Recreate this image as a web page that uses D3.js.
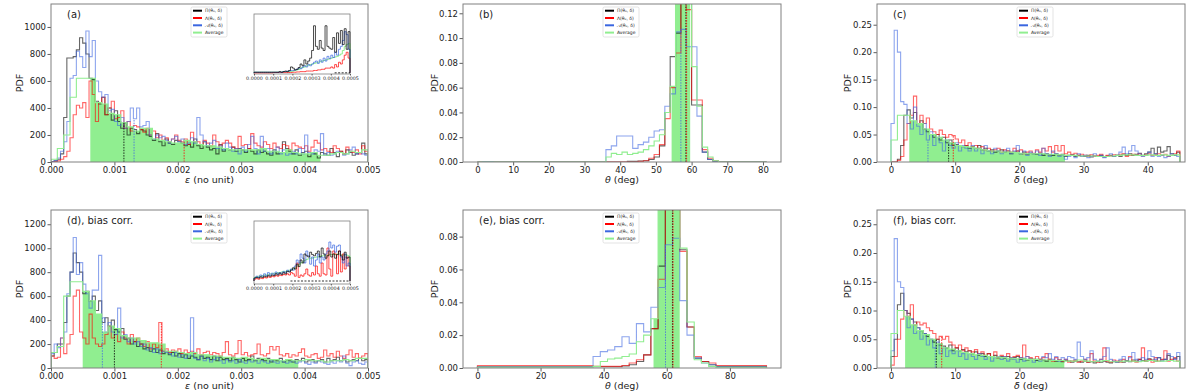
<!DOCTYPE html>
<meta charset="utf-8">
<style>
body { margin: 0; background: #fff; }
text { font-family: "DejaVu Sans", sans-serif; fill: #222; }
</style>
<svg width="1200" height="391"></svg>
<script src="https://d3js.org/d3.v7.min.js"></script>
<script>

// ---------- data ----------
// (a) epsilon, 100 bins of 0.00005 (average: 50 bins of 0.0001)
var aBlack = [3,8,20,60,330,770,770,780,830,920, 880,800,620,610,450,430,480,350,400,310,
  380,300,250,290,200,250,240,210,240,230, 200,190,160,210,150,120,170,140,130,160,
  150,140,120,130,110,170,120,100,150,110, 90,100,60,130,80,100,90,110,80,100,
  90,70,100,80,60,90,70,80,60,50, 90,60,70,150,100,80,60,90,50,70,
  80,40,70,60,30,70,60,50,100,70, 40,80,60,90,70,50,60,70,140,60];
var aRed = [0,3,8,20,40,80,180,350,420,400, 440,330,600,500,300,440,480,350,400,450,
  320,330,380,250,300,230,270,260,240,220, 250,200,230,180,200,160,180,150,170,200,
  160,150,170,130,220,150,150,130,160,140, 120,200,150,120,140,160,140,110,100,190,
  120,130,100,210,140,120,110,150,130,100, 140,110,100,130,120,90,140,120,110,100,
  120,80,110,160,140,90,100,80,70,120, 100,80,60,110,80,70,90,60,120,80];
var aBlue = [2,10,30,80,150,300,620,640,820,780, 700,970,780,900,600,520,480,500,380,390,
  300,270,330,250,300,400,320,400,260,270, 300,200,170,200,180,190,160,140,170,190,
  150,170,130,140,180,140,330,200,150,120, 140,160,100,120,90,140,110,80,100,60,
  110,80,130,190,100,60,190,80,100,60, 80,110,60,90,50,60,80,60,100,60,
  200,70,60,90,80,210,50,70,50,60, 80,70,50,60,90,110,60,70,60,50];
var aGreen = [20,100,200,480,620,620,620,440,430,360, 350,290,260,230,250,250,170,160,150,140,
  140,160,150,130,120,120,110,100,90,90, 90,90,90,100,80,80,70,90,70,60,
  60,70,50,50,60,70,60,80,70,90];

// (a) inset, 50 bins of 0.00001, arbitrary units
var insABlack = [1,1,1,1,1,1,1,1,1,1, 1,1,1,2,1,2,3,2,4,10, 8,5,6,9,15,12,22,15,20,25,
  38,80,45,40,55,42,38,80,45,42, 40,60,35,68,50,72,48,75,40,70];
var insARed = [0,0,0,0,0,0,0,0,0,0, 0.5,0.5,0.5,0.5,0.5,0.5,0.5,0.5,0.5,0.5, 1,1,1.5,1.5,2,2,2,3,3,3,
  3,4,4,5,5,6,6,8,8,8, 10,8,14,10,18,15,22,30,35,25];
var insABlue = [1,1,1,1,1,1,1,1,1,1, 1,1,1,1,1,2,2,3,3,4, 4,5,6,8,7,10,12,10,14,12,
  15,18,20,16,22,18,25,20,28,24, 30,26,35,30,40,45,55,70,65,40];
var insAGreen = [1,1,1,1,1,1,1,1,1,1, 1,1,1,1,1,2,2,2,2,2, 3,4,5,6,8,9,10,12,13,14,
  15,16,17,18,19,20,21,22,23,24, 25,26,27,28,30,32,38,45,48,50];

// (b) theta, 54 bins of 1.5 deg
var bBlack = [0,0,0,0,0,0,0,0,0,0, 0,0,0,0,0,0,0,0,0,0, 0,0,0,0,0,0,0,0,0.0005,0.0005,
  0.0008,0.001,0.002,0.004,0.013,0.04,0.085,0.104,0.16,0.14, 0.046,0.046,0.008,0.002,0.0005,0,0,0,0,0, 0,0,0,0];
var bRed = [0,0,0,0,0,0,0,0,0,0, 0,0,0,0,0,0,0,0,0,0, 0,0,0,0,0,0,0,0,0,0,
  0.0005,0.001,0.003,0.006,0.014,0.035,0.06,0.088,0.16,0.123, 0.05,0.05,0.01,0.003,0.001,0,0,0,0,0, 0,0,0,0];
var bBlue = [0,0.0003,0.0003,0,0,0,0,0,0,0, 0,0,0,0,0,0,0,0,0,0, 0,0,0,0,0.01,0.013,0.021,0.021,0.021,0.011,
  0.014,0.016,0.02,0.025,0.026,0.045,0.055,0.105,0.107,0.093, 0.093,0.037,0.008,0.002,0.0005,0,0,0,0,0, 0,0,0,0];
var bGreen = [0,0,0,0,0,0,0,0,0,0, 0,0,0,0,0,0,0,0,0,0, 0,0,0,0,0.004,0.007,0.006,0.008,0.006,0.007,
  0.008,0.01,0.013,0.017,0.022,0.04,0.061,0.15,0.16,0.14, 0.077,0.045,0.012,0.004,0.001,0,0,0,0,0, 0,0,0,0];

// (c) delta, 90 bins of 0.5 deg (average: 45 bins of 1 deg)
var cBlack = [0,0,0.005,0.03,0.085,0.095,0.08,0.09,0.07,0.075, 0.06,0.055,0.05,0.045,0.05,0.04,0.045,0.035,0.04,0.03,
  0.032,0.03,0.028,0.03,0.025,0.028,0.025,0.03,0.022,0.025, 0.02,0.022,0.018,0.02,0.022,0.018,0.02,0.015,0.018,0.02,
  0.015,0.018,0.014,0.016,0.015,0.014,0.016,0.012,0.015,0.013, 0.012,0.015,0.012,0.014,0.01,0.012,0.013,0.01,0.012,0.011,
  0.01,0.012,0.009,0.011,0.01,0.012,0.009,0.011,0.012,0.01, 0.012,0.01,0.014,0.012,0.015,0.012,0.014,0.016,0.012,0.015,
  0.018,0.025,0.015,0.027,0.018,0.02,0.028,0.015,0.012,0.018];
var cRed = [0,0,0.003,0.01,0.04,0.07,0.085,0.12,0.07,0.085, 0.07,0.08,0.06,0.055,0.05,0.058,0.05,0.045,0.05,0.048,
  0.042,0.035,0.04,0.03,0.035,0.028,0.03,0.025,0.028,0.022, 0.025,0.02,0.022,0.025,0.018,0.022,0.02,0.018,0.025,0.02,
  0.022,0.015,0.018,0.02,0.016,0.022,0.018,0.025,0.02,0.028, 0.018,0.03,0.02,0.03,0.015,0.018,0.014,0.016,0.012,0.014,
  0.012,0.01,0.013,0.011,0.012,0.014,0.01,0.012,0.011,0.013, 0.012,0.014,0.015,0.01,0.012,0.014,0.012,0.015,0.011,0.013,
  0.015,0.012,0.013,0.015,0.012,0.014,0.01,0.012,0.015,0.02];
var cBlue = [0.07,0.24,0.2,0.11,0.105,0.07,0.06,0.1,0.065,0.05, 0.07,0.04,0.055,0.03,0.045,0.035,0.02,0.04,0.03,0.025,
  0.035,0.02,0.03,0.025,0.02,0.03,0.02,0.025,0.015,0.03, 0.02,0.015,0.025,0.02,0.015,0.02,0.025,0.015,0.02,0.03,
  0.015,0.02,0.012,0.018,0.015,0.02,0.012,0.025,0.015,0.01, 0.02,0.015,0.01,0.012,0.005,0.01,0.012,0.008,0.015,0.01,
  0.012,0.008,0.01,0.015,0.01,0.012,0.008,0.01,0.015,0.01, 0.012,0.018,0.027,0.015,0.02,0.03,0.02,0.015,0.01,0.012,
  0.018,0.01,0.015,0.01,0.012,0.008,0.01,0.015,0.012,0.01];
var cGreen = [0.04,0.085,0.085,0.075,0.07,0.06,0.05,0.045,0.04,0.035, 0.03,0.028,0.027,0.025,0.022,0.02,0.02,0.018,0.018,0.017,
  0.016,0.015,0.015,0.015,0.014,0.014,0.013,0.012,0.012,0.011, 0.011,0.011,0.01,0.01,0.011,0.012,0.013,0.013,0.012,0.012,
  0.013,0.012,0.013,0.012,0.013];

// (d) epsilon, bias corrected
var dBlack = [100,130,200,200,380,600,800,960,880,800, 620,640,560,600,480,560,380,420,350,400,
  320,300,330,240,250,200,220,180,200,160, 170,140,160,130,150,120,140,110,130,100,
  120,90,110,80,100,90,70,100,80,90, 70,100,60,90,70,80,60,90,70,50,
  80,60,70,100,60,80,70,60,80,50, 70,60,80,50,70,60,50,70,60,80,
  50,60,70,50,60,70,50,80,60,70, 90,60,70,50,60,70,60,80,60,70];
var dRed = [100,80,90,250,120,200,280,600,650,300, 250,200,450,250,200,180,200,280,350,250,
  280,220,300,250,200,280,220,250,200,180, 220,160,200,170,380,140,160,130,150,140,
  160,120,150,130,140,120,160,110,130,140, 110,130,120,100,130,220,110,100,120,230,
  110,130,100,110,120,200,110,100,120,180, 150,180,110,100,120,90,110,100,130,160,
  100,90,110,120,80,90,150,100,120,90, 140,100,80,110,150,90,120,80,100,120];
var dBlue = [120,200,170,250,300,620,800,1090,780,880, 700,620,500,650,650,940,420,300,380,300,
  280,500,250,280,220,250,200,220,180,200, 150,170,130,160,120,140,130,120,100,130,
  90,110,80,100,420,80,70,100,60,80, 50,70,90,60,40,70,50,60,40,70,
  50,40,60,50,70,40,60,50,40,60, 50,40,60,50,40,50,60,40,50,60,
  40,30,50,40,60,50,40,30,50,40, 60,50,100,40,20,50,60,40,30,50];
var dGreen = [130,180,600,720,720,640,560,450,300,350, 330,270,250,250,230,210,210,200,140,140,
  130,120,130,110,110,100,100,90,90,80, 90,80,70,80,70,70,60,70,60,60,
  70,60,60,50,60,60,70,60,80,80];

// (d) inset
var insDBlack = [5,6,5,7,6,8,7,9,8,10, 9,12,10,13,11,14,12,16,15,18, 22,20,28,24,35,30,45,42,40,48,
  44,42,46,50,40,55,45,38,42,50, 40,45,38,44,50,42,35,48,38,40];
var insDRed = [3,4,3,5,4,6,5,7,6,8, 7,9,8,10,9,11,10,12,10,14, 12,8,30,6,10,8,12,20,10,8,
  14,10,25,12,8,30,12,10,55,20, 8,50,45,12,50,15,45,20,40,25];
var insDBlue = [5,8,6,10,8,12,9,14,10,13, 11,15,12,14,13,16,14,18,16,20, 18,25,35,30,45,38,30,50,42,28,
  40,25,35,45,30,40,35,45,50,65, 55,60,48,58,60,40,30,45,25,30];
var insDGreen = [6,7,8,8,9,10,10,11,12,12, 13,13,14,14,15,16,16,17,18,19, 20,22,25,27,30,32,34,36,37,38,
  38,39,40,40,41,42,42,43,43,44, 44,45,44,45,45,44,43,44,43,42];

// (e) theta, bias corrected, 40 bins of 2.29 deg
var eBlack = [0.0008,0.0008,0.0008,0.0008,0.0008,0.0008,0.0008,0.0008,0.0008,0.0008, 0.0008,0.0008,0.0008,0.0008,0.0008,0.0008,0.0008,0.0008,0.0008,0.0008,
  0.0012,0.002,0.004,0.008,0.024,0.062,0.11,0.12,0.072,0.025, 0.006,0.004,0.002,0.001,0.001,0.001,0.001,0.001,0.001,0.001];
var eRed = [0.0015,0.0015,0.0015,0.0015,0.0015,0.0015,0.0015,0.0015,0.0015,0.0015, 0.0015,0.0015,0.0015,0.0015,0.0015,0.0015,0.001,0.001,0.001,0.001,
  0.0015,0.003,0.005,0.008,0.024,0.054,0.12,0.12,0.071,0.025, 0.007,0.004,0.003,0.0015,0.0015,0.0015,0.0015,0.0015,0.0015,0.0015];
var eBlue = [0.0006,0.0006,0.0006,0.0006,0.0006,0.0006,0.0006,0.0006,0.0006,0.0006, 0.0006,0.0006,0.0006,0.0006,0.0006,0.0006,0.007,0.01,0.011,0.013,
  0.019,0.015,0.027,0.022,0.037,0.049,0.075,0.079,0.041,0.02, 0.006,0.003,0.002,0.0008,0.0008,0.0008,0.0008,0.0008,0.0008,0.0008];
var eGreen = [0.0005,0.0005,0.0005,0.0005,0.0005,0.0005,0.0005,0.0005,0.0005,0.0005, 0.0005,0.0005,0.0005,0.0005,0.0005,0.0005,0.001,0.004,0.0055,0.006,
  0.007,0.0085,0.016,0.02,0.03,0.1,0.12,0.12,0.073,0.028, 0.005,0.003,0.001,0.0005,0.0005,0.0005,0.0005,0.0005,0.0005,0.0005];

// (f) delta, bias corrected
var fBlack = [0.02,0.05,0.11,0.13,0.1,0.095,0.085,0.08,0.07,0.065, 0.06,0.055,0.05,0.045,0.05,0.04,0.038,0.035,0.04,0.03,
  0.035,0.03,0.032,0.028,0.03,0.025,0.028,0.022,0.025,0.02, 0.025,0.02,0.022,0.018,0.02,0.017,0.02,0.016,0.018,0.02,
  0.015,0.017,0.014,0.016,0.015,0.013,0.015,0.014,0.012,0.015, 0.013,0.012,0.014,0.011,0.013,0.012,0.01,0.012,0.011,0.01,
  0.012,0.01,0.011,0.009,0.011,0.01,0.012,0.01,0.009,0.011, 0.01,0.012,0.01,0.013,0.011,0.014,0.012,0.015,0.013,0.012,
  0.016,0.014,0.012,0.018,0.014,0.015,0.022,0.013,0.016,0.02];
var fRed = [0.005,0.02,0.05,0.085,0.1,0.09,0.11,0.075,0.08,0.075, 0.078,0.07,0.065,0.06,0.05,0.055,0.05,0.055,0.045,0.04,
  0.035,0.04,0.03,0.035,0.03,0.028,0.032,0.025,0.028,0.022, 0.025,0.02,0.028,0.018,0.022,0.02,0.025,0.018,0.02,0.022,
  0.018,0.04,0.02,0.018,0.015,0.02,0.015,0.018,0.025,0.015, 0.012,0.018,0.014,0.012,0.015,0.01,0.012,0.014,0.01,0.012,
  0.015,0.01,0.025,0.012,0.01,0.015,0.035,0.012,0.01,0.014, 0.012,0.01,0.015,0.012,0.02,0.012,0.01,0.015,0.035,0.012,
  0.015,0.01,0.018,0.012,0.015,0.03,0.012,0.015,0.018,0.012];
var fBlue = [0.03,0.225,0.15,0.14,0.1,0.07,0.085,0.06,0.07,0.05, 0.06,0.04,0.05,0.035,0.045,0.025,0.035,0.02,0.03,0.025,
  0.03,0.02,0.025,0.015,0.025,0.02,0.015,0.025,0.02,0.015, 0.02,0.012,0.018,0.02,0.015,0.02,0.012,0.018,0.015,0.01,
  0.018,0.012,0.02,0.015,0.01,0.015,0.012,0.02,0.018,0.025, 0.015,0.02,0.012,0.018,0.015,0.02,0.018,0.015,0.045,0.02,
  0.015,0.018,0.03,0.015,0.012,0.015,0.02,0.035,0.015,0.012, 0.01,0.015,0.02,0.012,0.018,0.027,0.015,0.012,0.018,0.015,
  0.03,0.02,0.015,0.018,0.012,0.015,0.025,0.02,0.015,0.027];
var fGreen = [0.06,0.1,0.09,0.075,0.065,0.058,0.05,0.042,0.035,0.033, 0.03,0.027,0.025,0.023,0.022,0.02,0.019,0.018,0.017,0.016,
  0.016,0.015,0.015,0.014,0.014,0.013,0.013,0.012,0.012,0.014, 0.012,0.011,0.012,0.013,0.011,0.011,0.012,0.012,0.011,0.012,
  0.013,0.012,0.012,0.013,0.012];

// ticks and labels
var epsTicks = [0, 0.001, 0.002, 0.003, 0.004, 0.005];
var insetTicks = [0, 0.0001, 0.0002, 0.0003, 0.0004, 0.0005];
var legendLabels = ["\u03a0(\u03b8\u2080, \u03b4)", "\u039b(\u03b8\u2080, \u03b4)", "\ud835\udc9c(\u03b8\u2080, \u03b4)", "Average"];

// ---------- layout ----------
var svg = d3.select("svg");
var colLeft = [51, 463, 877], colRight = [368, 781, 1185];
var rowTop = [4, 210], rowBottom = [162, 368];
var ylabOffset = [31, 28, 29];

var colors = {black: "#000000", red: "#ff0000", blue: "#4169e1", green: "#90ee90"};
var lineAlpha = {black: 0.6, red: 0.6, blue: 0.6, green: 1};

var fmt3 = d3.format(".3f"), fmt2 = d3.format(".2f"), fmtInt = d3.format("d");

var panels = [
  {id: "a", label: "(a)", col: 0, row: 0, xDom: [0, 0.005], yDom: [0, 1170],
   xTicks: epsTicks, yTicks: d3.range(0, 1001, 200), xFmt: fmt3, yFmt: fmtInt,
   sym: "\u03b5", unit: " (no unit)",
   black: aBlack, red: aRed, blue: aBlue, green: aGreen, x0: 0, w: 0.00005, gw: 0.0001,
   fill: [0.00062, 0.00425], med: {black: 0.00115, blue: 0.00131, red: 0.0021},
   inset: {black: insABlack, red: insARed, blue: insABlue, green: insAGreen, top: 10, h: 60, yDom: [-2, 100], dash: [0.00042, 0.0005]}},
  {id: "b", label: "(b)", col: 1, row: 0, xDom: [-4.05, 85.05], yDom: [0, 0.1275],
   xTicks: d3.range(0, 81, 10), yTicks: [0, 0.02, 0.04, 0.06, 0.08, 0.10, 0.12], xFmt: fmtInt, yFmt: fmt2,
   sym: "\u03b8", unit: " (deg)",
   black: bBlack, red: bRed, blue: bBlue, green: bGreen, x0: 0, w: 1.5, gw: 1.5,
   fill: [54.4, 59.6], med: {blue: 57.0, black: 58.4, red: 58.6}},
  {id: "c", label: "(c)", col: 2, row: 0, xDom: [-2.18, 45.8], yDom: [0, 0.2877],
   xTicks: [0, 10, 20, 30, 40], yTicks: [0, 0.05, 0.10, 0.15, 0.20, 0.25], xFmt: fmtInt, yFmt: fmt2,
   sym: "\u03b4", unit: " (deg)",
   black: cBlack, red: cRed, blue: cBlue, green: cGreen, x0: 0, w: 0.5, gw: 1,
   fill: [2.85, 27.1], med: {blue: 5.76, black: 8.98, red: 9.7}},
  {id: "d", label: "(d), bias corr.", col: 0, row: 1, xDom: [0, 0.005], yDom: [0, 1319],
   xTicks: epsTicks, yTicks: d3.range(0, 1201, 200), xFmt: fmt3, yFmt: fmtInt,
   sym: "\u03b5", unit: " (no unit)",
   black: dBlack, red: dRed, blue: dBlue, green: dGreen, x0: 0, w: 0.00005, gw: 0.0001,
   fill: [0.0005, 0.0039], med: {blue: 0.00081, black: 0.001, red: 0.00174},
   inset: {black: insDBlack, red: insDRed, blue: insDBlue, green: insDGreen, top: 11, h: 63, yDom: [-5, 100], dash: [0.00019, 0.0005]}},
  {id: "e", label: "(e), bias corr.", col: 1, row: 1, xDom: [-4.58, 96.2], yDom: [0, 0.0962],
   xTicks: [0, 20, 40, 60, 80], yTicks: [0, 0.02, 0.04, 0.06, 0.08], xFmt: fmtInt, yFmt: fmt2,
   sym: "\u03b8", unit: " (deg)",
   black: eBlack, red: eRed, blue: eBlue, green: eGreen, x0: 0, w: 2.29, gw: 2.29,
   fill: [55.8, 64.1], med: {blue: 59.6, black: 61.8, red: 62.0}},
  {id: "f", label: "(f), bias corr.", col: 2, row: 1, xDom: [-2.18, 45.8], yDom: [0, 0.2748],
   xTicks: [0, 10, 20, 30, 40], yTicks: [0, 0.05, 0.10, 0.15, 0.20, 0.25], xFmt: fmtInt, yFmt: fmt2,
   sym: "\u03b4", unit: " (deg)",
   black: fBlack, red: fRed, blue: fBlue, green: fGreen, x0: 0, w: 0.5, gw: 1,
   fill: [2.2, 27.0], med: {blue: 6.9, black: 7.06, red: 7.9}}
];

function stepPoints(vals, x0, w) {
  var pts = [[x0, 0]];
  vals.forEach(function(v, i) { pts.push([x0 + i * w, v]); });
  pts.push([x0 + vals.length * w, vals[vals.length - 1]]);
  pts.push([x0 + vals.length * w, 0]);
  return pts;
}

function fillPoints(vals, x0, w, lo, hi) {
  var i0 = Math.floor((lo - x0) / w), ih = Math.floor((hi - x0) / w);
  var pts = [[lo, vals[i0]]];
  for (var i = i0 + 1; i <= ih; i++) pts.push([x0 + i * w, vals[i]]);
  pts.push([hi, vals[ih]]);
  return pts;
}

function valueAt(vals, x0, w, v) {
  return vals[Math.min(vals.length - 1, Math.floor((v - x0) / w))];
}

var defs = svg.append("defs");

function styleAxis(sel, size) {
  sel.attr("font-family", "DejaVu Sans").attr("font-size", size);
  sel.select(".domain").remove();
  sel.selectAll(".tick line").attr("stroke", "#333").attr("stroke-width", 0.8);
  sel.selectAll(".tick text").attr("fill", "#222");
}

function drawLegend(g, lx, ly) {
  var lg = g.append("g").attr("transform", "translate(" + lx + "," + ly + ")");
  lg.append("rect").attr("width", 36).attr("height", 30).attr("rx", 1.5)
    .attr("fill", "#fff").attr("fill-opacity", 0.8).attr("stroke", "#d0d0d0").attr("stroke-width", 0.6);
  ["black", "red", "blue", "green"].forEach(function(k, i) {
    var yy = 3.7 + i * 7.3;
    lg.append("line").attr("x1", 2).attr("x2", 11).attr("y1", yy).attr("y2", yy)
      .attr("stroke", k === "blue" ? "#3a66e0" : colors[k]).attr("stroke-width", 2);
    lg.append("text").attr("x", 14).attr("y", yy + 1.6).attr("font-size", 4.5).text(legendLabels[i]);
  });
}

panels.forEach(function(p) {
  var left = colLeft[p.col], right = colRight[p.col], top = rowTop[p.row], bottom = rowBottom[p.row];
  var x = d3.scaleLinear().domain(p.xDom).range([left, right]);
  var y = d3.scaleLinear().domain(p.yDom).range([bottom, top]);

  defs.append("clipPath").attr("id", "clip-" + p.id)
    .append("rect").attr("x", left).attr("y", top).attr("width", right - left).attr("height", bottom - top);

  var g = svg.append("g");
  var plot = g.append("g").attr("clip-path", "url(#clip-" + p.id + ")");

  var line = d3.line().curve(d3.curveStepAfter).x(function(d) { return x(d[0]); }).y(function(d) { return y(d[1]); });
  var area = d3.area().curve(d3.curveStepAfter).x(function(d) { return x(d[0]); })
    .y0(y(0)).y1(function(d) { return y(d[1]); });

  // central interval of the average
  plot.append("path").attr("d", area(fillPoints(p.green, p.x0, p.gw, p.fill[0], p.fill[1])))
    .attr("fill", colors.green);

  ["black", "red", "blue"].forEach(function(k) {
    plot.append("path").attr("d", line(stepPoints(p[k], p.x0, p.w)))
      .attr("fill", "none").attr("stroke", colors[k]).attr("stroke-opacity", lineAlpha[k]).attr("stroke-width", 1.1);
  });
  plot.append("path").attr("d", line(stepPoints(p.green, p.x0, p.gw)))
    .attr("fill", "none").attr("stroke", colors.green).attr("stroke-width", 1.1);

  // medians
  ["black", "blue", "red"].forEach(function(k) {
    var m = p.med[k];
    plot.append("line").attr("x1", x(m)).attr("x2", x(m))
      .attr("y1", y(0)).attr("y2", y(valueAt(p[k], p.x0, p.w, m)))
      .attr("stroke", colors[k]).attr("stroke-opacity", 0.8).attr("stroke-width", 1).attr("stroke-dasharray", "1.5,1.2");
  });

  // axes
  g.append("g").attr("transform", "translate(0," + bottom + ")")
    .call(d3.axisBottom(x).tickValues(p.xTicks).tickFormat(p.xFmt).tickSize(3.5).tickPadding(1.5))
    .call(styleAxis, 8.5);
  g.append("g").attr("transform", "translate(" + left + ",0)")
    .call(d3.axisLeft(y).tickValues(p.yTicks).tickFormat(p.yFmt).tickSize(3.5).tickPadding(1.5))
    .call(styleAxis, 8.5);

  g.append("rect").attr("x", left).attr("y", top).attr("width", right - left).attr("height", bottom - top)
    .attr("fill", "none").attr("stroke", "#808080").attr("stroke-width", 1);

  var xl = g.append("text").attr("x", (left + right) / 2).attr("y", bottom + 21)
    .attr("text-anchor", "middle").attr("font-size", 9.5);
  xl.append("tspan").attr("font-style", "italic").text(p.sym);
  xl.append("tspan").text(p.unit);

  g.append("text").attr("transform", "translate(" + (left - ylabOffset[p.col]) + "," + ((top + bottom) / 2) + ") rotate(-90)")
    .attr("text-anchor", "middle").attr("dy", "0.35em").attr("font-size", 9.5).text("PDF");

  g.append("text").attr("x", left + 16).attr("y", top + 13.5).attr("font-size", 10).text(p.label);

  drawLegend(g, left + 140, top + 3);

  if (p.inset) {
    var ins = p.inset;
    var il = left + 203, ir = il + 96, it = top + ins.top, ib = it + ins.h;
    var ix = d3.scaleLinear().domain([0, 0.0005]).range([il, ir]);
    var iy = d3.scaleLinear().domain(ins.yDom).range([ib, it]);
    var ig = g.append("g");
    ig.append("rect").attr("x", il).attr("y", it).attr("width", ir - il).attr("height", ib - it)
      .attr("fill", "#fff").attr("stroke", "#808080").attr("stroke-width", 0.8);
    var iline = d3.line().curve(d3.curveStepAfter).x(function(d) { return ix(d[0]); }).y(function(d) { return iy(d[1]); });
    ["green", "red", "blue", "black"].forEach(function(k) {
      ig.append("path").attr("d", iline(stepPoints(ins[k], 0, 0.00001)))
        .attr("fill", "none").attr("stroke", k === "blue" ? "#3a66e0" : colors[k])
        .attr("stroke-opacity", k === "green" ? 1 : 0.7).attr("stroke-width", 1);
    });
    ig.append("line").attr("x1", ix(ins.dash[0])).attr("x2", ix(ins.dash[1]))
      .attr("y1", iy(0)).attr("y2", iy(0)).attr("stroke", "#000").attr("stroke-width", 0.8).attr("stroke-dasharray", "2,1.5");
    ig.append("g").attr("transform", "translate(0," + ib + ")")
      .call(d3.axisBottom(ix).tickValues(insetTicks).tickFormat(d3.format(".4f")).tickSize(1.5).tickPadding(1))
      .call(styleAxis, 4.8);
  }
});

</script>
